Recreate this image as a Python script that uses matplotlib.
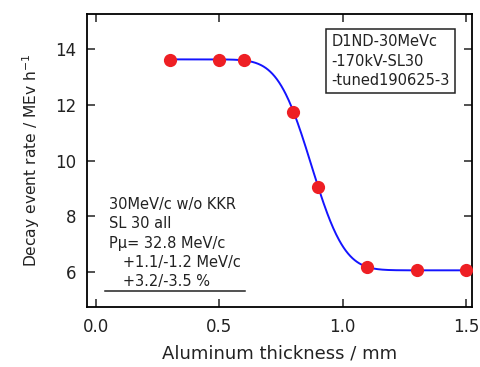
#!/usr/bin/env python3
# -*- coding: utf-8 -*-
"""Decay event rate vs aluminum thickness, with an erfc fit."""

from math import erfc

import matplotlib

matplotlib.use("Agg")
import matplotlib.pyplot as plt
import numpy as np

plt.rcParams.update(
    {
        "font.family": ["DejaVu Sans"],
        "mathtext.fontset": "dejavusans",
        "axes.linewidth": 1.3,
        "xtick.direction": "in",
        "ytick.direction": "in",
    }
)

# measured points
thickness = [0.3, 0.5, 0.6, 0.8, 0.9, 1.1, 1.3, 1.5]
rate = [13.62, 13.62, 13.62, 11.75, 9.05, 6.19, 6.07, 6.07]

x_ticks = [0.0, 0.5, 1.0, 1.5]
y_ticks = [6, 8, 10, 12, 14]

run_label = "D1ND-30MeVc\n-170kV-SL30\n-tuned190625-3"
fit_label = (
    "30MeV/c w/o KKR\nSL 30 all\nP\u03bc= 32.8 MeV/c\n"
    "   +1.1/-1.2 MeV/c\n   +3.2/-3.5 %"
)

RED = "#ee1f24"
BLUE = "#1414ff"
INK = "#222222"


def erfc_model(x, x0, sigma):
    return np.array([0.5 * erfc((xi - x0) / (sigma * np.sqrt(2))) for xi in x])


def fit_erfc(x, y):
    # base + amp * erfc-step; grid over centre/width, linear solve for the rest
    x = np.asarray(x, float)
    y = np.asarray(y, float)
    best = None
    for x0 in np.linspace(0.7, 1.0, 121):
        for sig in np.linspace(0.04, 0.25, 106):
            A = np.column_stack([np.ones_like(x), erfc_model(x, x0, sig)])
            coef, *_ = np.linalg.lstsq(A, y, rcond=None)
            err = np.sum((A @ coef - y) ** 2)
            if best is None or err < best[0]:
                best = (err, x0, sig, coef)
    return best[1:]


def main() -> None:
    x0, sig, coef = fit_erfc(thickness, rate)
    xf = np.linspace(min(thickness), max(thickness), 400)
    yf = coef[0] + coef[1] * erfc_model(xf, x0, sig)

    fig = plt.figure(figsize=(4.81, 3.67), dpi=100, facecolor="white")
    ax = fig.add_axes([0.181, 0.1635, 0.8, 0.798])

    ax.plot(xf, yf, color=BLUE, lw=1.4, zorder=2)
    ax.plot(thickness, rate, "o", color=RED, ms=9.5, mew=0, zorder=3)

    ax.set_xlim(-0.037, 1.524)
    ax.set_ylim(4.75, 15.25)
    ax.set_xticks(x_ticks)
    ax.set_xticklabels([f"{t:.1f}" for t in x_ticks])
    ax.set_yticks(y_ticks)
    ax.tick_params(
        axis="both", which="both", top=True, right=True,
        length=6, width=1.1, labelsize=12, pad=8, colors=INK,
    )
    ax.set_xlabel("Aluminum thickness / mm", fontsize=13, labelpad=6, color=INK)
    ax.set_ylabel("Decay event rate / MEv h$^{-1}$", fontsize=11.2,
                  labelpad=9, color=INK)

    ax.text(
        0.635, 0.932, run_label, transform=ax.transAxes, ha="left", va="top",
        fontsize=10.5, linespacing=1.38, color=INK,
        bbox={"facecolor": "white", "edgecolor": INK, "linewidth": 1.1,
              "boxstyle": "square,pad=0.35"},
    )
    ax.text(
        0.058, 0.375, fit_label, transform=ax.transAxes, ha="left", va="top",
        fontsize=10.5, linespacing=1.36, color=INK,
    )
    ax.plot([0.047, 0.41], [0.055, 0.055], transform=ax.transAxes,
            color=INK, lw=1.1)

    fig.savefig("out.png", dpi=100, facecolor="white")
    plt.close(fig)


if __name__ == "__main__":
    main()
